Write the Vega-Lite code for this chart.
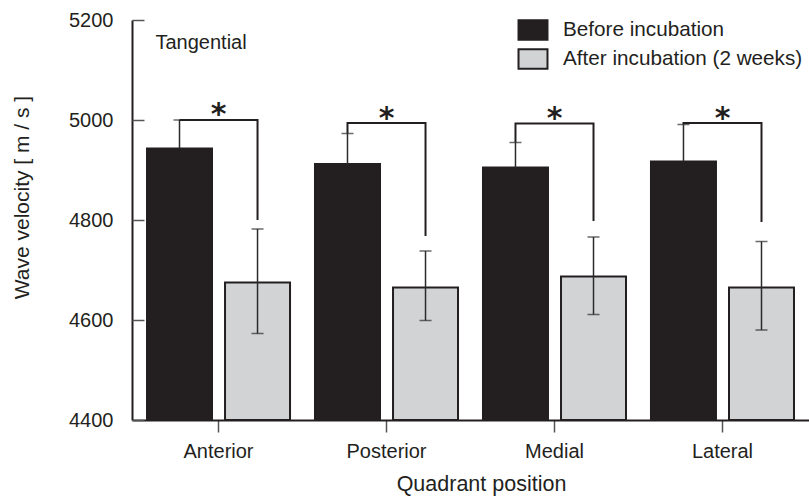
{
  "$schema": "https://vega.github.io/schema/vega-lite/v6.json",
  "width": 677,
  "height": 400,
  "autosize": {"type": "none"},
  "padding": {"left": 132, "top": 20, "right": 0, "bottom": 79},
  "background": "white",
  "config": {"view": {"stroke": null}, "font": "Liberation Sans"},
  "datasets": {
    "bars": [
      {"quadrant": "Anterior", "condition": "Before incubation", "velocity": 4943, "lo": 4886, "hi": 5000},
      {"quadrant": "Anterior", "condition": "After incubation (2 weeks)", "velocity": 4675, "lo": 4573, "hi": 4782},
      {"quadrant": "Posterior", "condition": "Before incubation", "velocity": 4912, "lo": 4851, "hi": 4973},
      {"quadrant": "Posterior", "condition": "After incubation (2 weeks)", "velocity": 4665, "lo": 4599, "hi": 4738},
      {"quadrant": "Medial", "condition": "Before incubation", "velocity": 4905, "lo": 4855, "hi": 4955},
      {"quadrant": "Medial", "condition": "After incubation (2 weeks)", "velocity": 4687, "lo": 4611, "hi": 4766},
      {"quadrant": "Lateral", "condition": "Before incubation", "velocity": 4917, "lo": 4843, "hi": 4991},
      {"quadrant": "Lateral", "condition": "After incubation (2 weeks)", "velocity": 4665, "lo": 4580, "hi": 4757}
    ],
    "brackets": [
      {"quadrant": "Anterior", "condition": "Before incubation", "velocity": 5000, "step": 1},
      {"quadrant": "Anterior", "condition": "Before incubation", "velocity": 5000, "step": 2},
      {"quadrant": "Anterior", "condition": "After incubation (2 weeks)", "velocity": 5000, "step": 3},
      {"quadrant": "Anterior", "condition": "After incubation (2 weeks)", "velocity": 4800, "step": 4},
      {"quadrant": "Posterior", "condition": "Before incubation", "velocity": 4973, "step": 1},
      {"quadrant": "Posterior", "condition": "Before incubation", "velocity": 4994, "step": 2},
      {"quadrant": "Posterior", "condition": "After incubation (2 weeks)", "velocity": 4994, "step": 3},
      {"quadrant": "Posterior", "condition": "After incubation (2 weeks)", "velocity": 4768, "step": 4},
      {"quadrant": "Medial", "condition": "Before incubation", "velocity": 4955, "step": 1},
      {"quadrant": "Medial", "condition": "Before incubation", "velocity": 4993, "step": 2},
      {"quadrant": "Medial", "condition": "After incubation (2 weeks)", "velocity": 4993, "step": 3},
      {"quadrant": "Medial", "condition": "After incubation (2 weeks)", "velocity": 4798, "step": 4},
      {"quadrant": "Lateral", "condition": "Before incubation", "velocity": 4991, "step": 1},
      {"quadrant": "Lateral", "condition": "Before incubation", "velocity": 4994, "step": 2},
      {"quadrant": "Lateral", "condition": "After incubation (2 weeks)", "velocity": 4994, "step": 3},
      {"quadrant": "Lateral", "condition": "After incubation (2 weeks)", "velocity": 4796, "step": 4}
    ],
    "stars": [
      {"quadrant": "Anterior", "velocity": 4992, "label": "*"},
      {"quadrant": "Posterior", "velocity": 4984, "label": "*"},
      {"quadrant": "Medial", "velocity": 4984, "label": "*"},
      {"quadrant": "Lateral", "velocity": 4984, "label": "*"}
    ],
    "notes": [
      {"quadrant": "Anterior", "condition": "Before incubation", "velocity": 5142, "label": "Tangential"}
    ],
    "yticks": [
      {"quadrant": "Anterior", "velocity": 4400},
      {"quadrant": "Anterior", "velocity": 4600},
      {"quadrant": "Anterior", "velocity": 4800},
      {"quadrant": "Anterior", "velocity": 5000},
      {"quadrant": "Anterior", "velocity": 5200}
    ]
  },
  "encoding": {
    "x": {
      "field": "quadrant",
      "type": "nominal",
      "sort": ["Anterior", "Posterior", "Medial", "Lateral"],
      "scale": {"paddingInner": 0, "paddingOuter": 0.015},
      "axis": {
        "title": "Quadrant position",
        "titleFontSize": 21.5,
        "titleFontWeight": "normal",
        "titleColor": "#231f20",
        "titleX": 349,
        "titleY": 70,
        "titleAlign": "center",
        "titleBaseline": "alphabetic",
        "labelFontSize": 20,
        "labelColor": "#231f20",
        "labelAngle": 0,
        "labelBaseline": "alphabetic",
        "labelPadding": 25,
        "bandPosition": 0.5,
        "tickSize": 12,
        "tickWidth": 1.5,
        "tickColor": "#555555",
        "domainWidth": 2,
        "domainColor": "#231f20",
        "grid": false
      }
    }
  },
  "resolve": {"scale": {"y": "independent"}, "axis": {"y": "independent"}},
  "layer": [
    {
      "encoding": {
        "y": {
          "field": "velocity",
          "type": "quantitative",
          "scale": {"domain": [4400, 5200], "nice": false, "zero": false},
          "axis": {
            "orient": "left",
            "title": "Wave velocity [ m / s ]",
            "titleFontSize": 21,
            "titleFontWeight": "normal",
            "titleColor": "#231f20",
            "titleX": -110,
            "titleY": 177,
            "titleAlign": "center",
            "titleBaseline": "middle",
            "titleAngle": -90,
            "values": [4400, 4600, 4800, 5000, 5200],
            "format": "d",
            "labelFontSize": 20,
            "labelColor": "#231f20",
            "labelPadding": 19,
            "ticks": true,
            "tickSize": 0,
            "tickColor": "transparent",
            "domain": true,
            "domainWidth": 2,
            "domainColor": "#231f20",
            "grid": false
          }
        }
      },
      "layer": [
        {
          "data": {"name": "bars"},
          "mark": {"type": "bar", "stroke": "#231f20", "strokeWidth": 2},
          "encoding": {
            "xOffset": {
              "field": "condition",
              "type": "nominal",
              "sort": ["Before incubation", "After incubation (2 weeks)"],
              "scale": {"paddingInner": 0.167, "paddingOuter": 0.16}
            },
            "y2": {"datum": 4400},
            "color": {
              "field": "condition",
              "type": "nominal",
              "sort": ["Before incubation", "After incubation (2 weeks)"],
              "scale": {"domain": ["Before incubation", "After incubation (2 weeks)"], "range": ["#231f20", "#d1d3d4"]},
              "legend": {
                "title": null,
                "orient": "none",
                "legendX": 390,
                "legendY": -1,
                "padding": 0,
                "symbolType": "M-1.5,-1H1.5V1H-1.5Z",
                "symbolSize": 373,
                "symbolStrokeColor": "#231f20",
                "symbolStrokeWidth": 2,
                "symbolOpacity": 1,
                "labelFontSize": 20.7,
                "labelColor": "#231f20",
                "labelOffset": 19,
                "labelLimit": 400,
                "rowPadding": 1
              }
            }
          }
        },
        {
          "data": {"name": "bars"},
          "transform": [{"filter": "datum.condition === 'After incubation (2 weeks)'"}],
          "mark": {"type": "rule", "color": "#2b2b2b", "strokeWidth": 1.5},
          "encoding": {
            "xOffset": {"field": "condition", "type": "nominal", "sort": ["Before incubation", "After incubation (2 weeks)"]},
            "y": {"field": "lo", "type": "quantitative"},
            "y2": {"field": "hi"}
          }
        },
        {
          "data": {"name": "bars"},
          "transform": [{"filter": "datum.condition === 'Before incubation'"}],
          "mark": {"type": "rule", "color": "#2b2b2b", "strokeWidth": 1.5},
          "encoding": {
            "xOffset": {"field": "condition", "type": "nominal", "sort": ["Before incubation", "After incubation (2 weeks)"]},
            "y": {"field": "velocity", "type": "quantitative"},
            "y2": {"field": "hi"}
          }
        },
        {
          "data": {"name": "bars"},
          "mark": {"type": "tick", "color": "#2b2b2b", "thickness": 1.5, "size": 12},
          "encoding": {
            "xOffset": {"field": "condition", "type": "nominal", "sort": ["Before incubation", "After incubation (2 weeks)"]},
            "y": {"field": "hi", "type": "quantitative"}
          }
        },
        {
          "data": {"name": "bars"},
          "transform": [{"filter": "datum.condition === 'After incubation (2 weeks)'"}],
          "mark": {"type": "tick", "color": "#2b2b2b", "thickness": 1.5, "size": 12},
          "encoding": {
            "xOffset": {"field": "condition", "type": "nominal", "sort": ["Before incubation", "After incubation (2 weeks)"]},
            "y": {"field": "lo", "type": "quantitative"}
          }
        },
        {
          "data": {"name": "brackets"},
          "mark": {"type": "line", "color": "#231f20", "strokeWidth": 2, "interpolate": "linear"},
          "encoding": {
            "xOffset": {"field": "condition", "type": "nominal", "sort": ["Before incubation", "After incubation (2 weeks)"]},
            "detail": {"field": "quadrant"},
            "order": {"field": "step", "type": "quantitative"}
          }
        },
        {
          "data": {"name": "stars"},
          "mark": {"type": "text", "font": "DejaVu Sans", "fontSize": 30, "fontWeight": "bold", "color": "#231f20", "baseline": "alphabetic", "align": "center"},
          "encoding": {
            "text": {"field": "label"}
          }
        },
        {
          "data": {"name": "notes"},
          "mark": {"type": "text", "fontSize": 20, "color": "#231f20", "baseline": "alphabetic", "align": "left", "dx": -24},
          "encoding": {
            "xOffset": {"field": "condition", "type": "nominal", "sort": ["Before incubation", "After incubation (2 weeks)"]},
            "text": {"field": "label"}
          }
        }
      ]
    },
    {
      "data": {"name": "yticks"},
      "mark": {"type": "point", "opacity": 0},
      "encoding": {
        "y": {
          "field": "velocity",
          "type": "quantitative",
          "scale": {"domain": [4400, 5200], "nice": false, "zero": false},
          "axis": {
            "orient": "left",
            "offset": -12,
            "title": null,
            "values": [4400, 4600, 4800, 5000, 5200],
            "labels": false,
            "domain": false,
            "ticks": true,
            "tickSize": 12,
            "tickWidth": 1.5,
            "tickColor": "#555555",
            "grid": false
          }
        }
      }
    }
  ]
}
